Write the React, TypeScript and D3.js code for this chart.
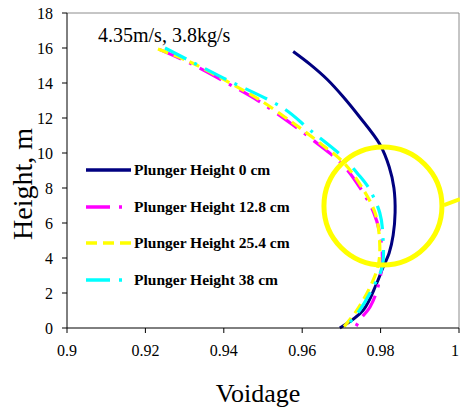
import React from "react";
import * as d3 from "d3";

const seriesNames = [
  "Plunger Height 0 cm",
  "Plunger Height 12.8 cm",
  "Plunger Height 25.4 cm",
  "Plunger Height 38 cm",
];

const voidage0 = [0.9577, 0.9621, 0.9664, 0.9705, 0.9745, 0.9798, 0.9822, 0.9834, 0.9837, 0.9832, 0.9822, 0.9805, 0.9789, 0.9755, 0.9696];
const height0 = [15.8, 15.05, 14.2, 13.2, 12.1, 10.5, 9.2, 8.0, 6.6, 5.3, 4.3, 3.4, 2.5, 1.0, 0];

const voidage12 = [0.9235, 0.9312, 0.9412, 0.9488, 0.9573, 0.9641, 0.97, 0.9736, 0.9783, 0.9801, 0.9804, 0.9791, 0.9773, 0.9747, 0.9735];
const height12 = [15.92, 15.15, 13.95, 12.98, 11.66, 10.5, 9.4, 8.4, 6.57, 5.03, 3.71, 2.17, 1.2, 0.46, 0];

const voidage25 = [0.9232, 0.9314, 0.9416, 0.9492, 0.9577, 0.9645, 0.9704, 0.974, 0.9786, 0.9798, 0.9793, 0.9773, 0.974, 0.9704];
const height25 = [15.94, 15.2, 14.0, 13.03, 11.71, 10.57, 9.49, 8.46, 6.57, 4.63, 3.49, 2.34, 1.03, 0];

const voidage38 = [0.925, 0.9398, 0.9551, 0.962, 0.9704, 0.974, 0.9768, 0.9798, 0.9806, 0.9804, 0.9781, 0.9747, 0.9709];
const height38 = [16.0, 14.29, 12.57, 11.31, 9.77, 8.86, 8.06, 6.57, 5.2, 3.49, 2.34, 1.03, 0];

const xTicks = [0.9, 0.92, 0.94, 0.96, 0.98, 1];
const xTickLabels = ["0.9", "0.92", "0.94", "0.96", "0.98", "1"];
const yTicks = [0, 2, 4, 6, 8, 10, 12, 14, 16, 18];

const annotationText = "4.35m/s, 3.8kg/s";
const circleCenter = [0.9806, 6.97];

const W = 460;
const H = 412;
const M = { left: 67, right: 459, top: 13, bottom: 328 };

export default function App() {
  const x = d3.scaleLinear().domain([0.9, 1]).range([M.left, M.right]);
  const y = d3.scaleLinear().domain([0, 18]).range([M.bottom, M.top]);

  const series = [
    { name: seriesNames[0], v: voidage0, h: height0, color: "#000080", dash: "none", width: 3 },
    { name: seriesNames[1], v: voidage12, h: height12, color: "#FF00FF", dash: "24 9 3 9", width: 3.2 },
    { name: seriesNames[2], v: voidage25, h: height25, color: "#FFFF00", dash: "11 6", width: 3.2 },
    { name: seriesNames[3], v: voidage38, h: height38, color: "#00FFFF", dash: "24 9 3 9", width: 3.2 },
  ];

  const line = d3
    .line<[number, number]>()
    .x((d) => x(d[0]))
    .y((d) => y(d[1]))
    .curve(d3.curveCatmullRom.alpha(0.5));

  const legendY = [170, 207, 243, 280];
  const cx = x(circleCenter[0]);
  const cy = y(circleCenter[1]);
  const r = 59;

  return (
    <svg
      width={W}
      height={H}
      style={{ position: "absolute", left: 0, top: 0, background: "#fff" }}
      fontFamily="'Liberation Serif', 'Times New Roman', serif"
    >
      {/* plot frame */}
      <line x1={M.left} x2={M.right} y1={M.top} y2={M.top} stroke="#8c8c8c" strokeWidth={1} />
      <line x1={M.right} x2={M.right} y1={M.top} y2={M.bottom} stroke="#8c8c8c" strokeWidth={1} />

      {/* series */}
      {series.map((s, i) => (
        <path
          key={i}
          d={line(s.v.map((v, j) => [v, s.h[j]] as [number, number])) || ""}
          fill="none"
          stroke={s.color}
          strokeWidth={s.width}
          strokeDasharray={s.dash}
        />
      ))}

      {/* axes */}
      <line x1={M.left} x2={M.left} y1={M.top} y2={M.bottom} stroke="#000" strokeWidth={1} />
      <line x1={M.left} x2={M.right} y1={M.bottom} y2={M.bottom} stroke="#000" strokeWidth={1} />
      {yTicks.map((t) => (
        <g key={"y" + t}>
          <line x1={M.left - 5} x2={M.left} y1={y(t)} y2={y(t)} stroke="#000" />
          <text x={53} y={y(t) + 6} textAnchor="end" fontSize={16} fill="#000">
            {t}
          </text>
        </g>
      ))}
      {xTicks.map((t, i) => (
        <g key={"x" + t}>
          <line x1={x(t)} x2={x(t)} y1={M.bottom} y2={M.bottom + 5} stroke="#000" />
          <text
            x={i === xTicks.length - 1 ? W - 1 : x(t)}
            y={356}
            textAnchor={i === xTicks.length - 1 ? "end" : "middle"}
            fontSize={16}
            fill="#000"
          >
            {xTickLabels[i]}
          </text>
        </g>
      ))}

      {/* axis titles */}
      <text x={258} y={402} textAnchor="middle" fontSize={26} fill="#000">
        Voidage
      </text>
      <text
        transform="translate(32,184) rotate(-90)"
        textAnchor="middle"
        fontSize={28}
        fill="#000"
      >
        Height, m
      </text>

      {/* annotation */}
      <text x={98} y={42} fontSize={20} fill="#000">
        {annotationText}
      </text>

      {/* legend */}
      {series.map((s, i) => (
        <g key={"lg" + i}>
          <line
            x1={86}
            x2={131}
            y1={legendY[i]}
            y2={legendY[i]}
            stroke={s.color}
            strokeWidth={3.5}
            strokeDasharray={s.dash}
          />
          <text x={134} y={legendY[i] + 5} fontSize={15.5} fontWeight="bold" fill="#000">
            {s.name}
          </text>
        </g>
      ))}

      {/* highlight circle */}
      <circle cx={cx} cy={cy} r={r} fill="none" stroke="#FFFF00" strokeWidth={5} />
      <line x1={cx + r + 2} y1={cy - 1} x2={W} y2={cy - 7} stroke="#FFFF00" strokeWidth={4} />
    </svg>
  );
}
